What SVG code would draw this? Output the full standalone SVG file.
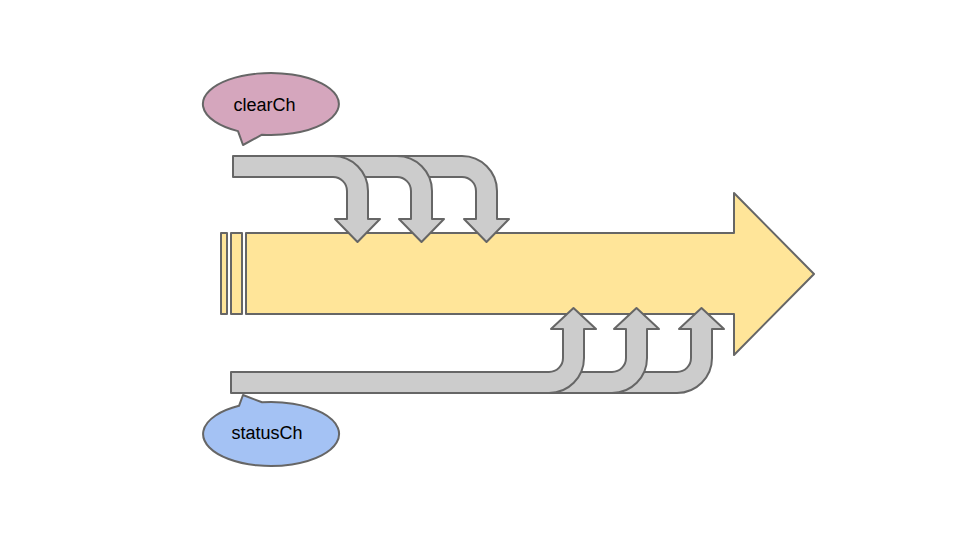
<svg xmlns="http://www.w3.org/2000/svg" width="960" height="540" viewBox="0 0 960 540">
<style>
.ln{stroke:#666666;stroke-width:2;stroke-linejoin:round}
.gy{fill:#cccccc}
.yl{fill:#ffe599}
.tx{font-family:"Liberation Sans",Arial,sans-serif;font-size:18px;fill:#000000;text-anchor:middle}
</style>
<rect width="960" height="540" fill="#ffffff"/>
<g id="timeline">
<rect class="yl ln" x="221" y="233" width="6" height="81"/>
<rect class="yl ln" x="231" y="233" width="11" height="81"/>
<path class="yl ln" d="M246,233 H734 V193 L814,274 L734,355 V314 H246 Z"/>
</g>
<g id="connectors">
<path class="gy ln" d="M370,156 H462 A35,35 0 0 1 497,191 V219 H509 L486.5,242 L464,219 H476 V191 A14,14 0 0 0 462,177 H370 Z"/>
<path class="gy ln" d="M305,156 H397 A35,35 0 0 1 432,191 V219 H444 L421.5,242 L399,219 H411 V191 A14,14 0 0 0 397,177 H305 Z"/>
<path class="gy ln" d="M233,156 H333 A35,35 0 0 1 368,191 V219 H380 L357.5,242 L335,219 H347 V191 A14,14 0 0 0 333,177 H233 Z"/>
<path class="gy ln" d="M585,372 H677 A14,14 0 0 0 691,358 V329 H679 L701.5,308 L724,329 H712 V358 A35,35 0 0 1 677,393 H585 Z"/>
<path class="gy ln" d="M522,372 H612 A14,14 0 0 0 626,358 V329 H614 L636.5,308 L659,329 H647 V358 A35,35 0 0 1 612,393 H522 Z"/>
<path class="gy ln" d="M231,372 H549 A14,14 0 0 0 563,358 V329 H551 L573.5,308 L596,329 H584 V358 A35,35 0 0 1 549,393 H231 Z"/>
</g>
<g id="clearCh">
<path class="ln" fill="#d5a6bd" d="M262,134.7 A68,31 0 1 0 238,131.1 L243,145 Z"/>
<text class="tx" x="264.5" y="111">clearCh</text>
</g>
<g id="statusCh">
<path class="ln" fill="#a4c2f4" d="M239,405.8 A68,32 0 1 0 262,402.3 L243,395 Z"/>
<text class="tx" x="267" y="439">statusCh</text>
</g>
</svg>
